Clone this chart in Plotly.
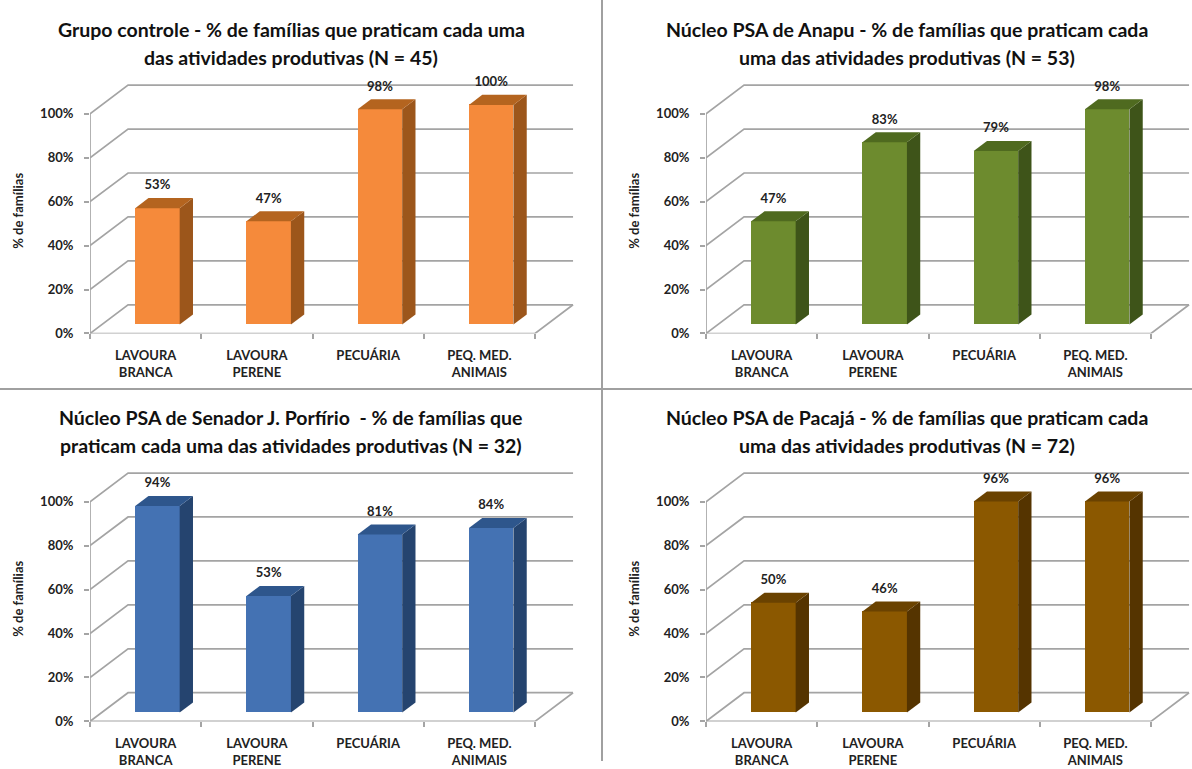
import plotly.graph_objects as go

# ---- data -------------------------------------------------------------
categorias = ["LAVOURA<br>BRANCA", "LAVOURA<br>PERENE", "PECUÁRIA", "PEQ. MED.<br>ANIMAIS"]

controle = [53, 47, 98, 100]
anapu = [47, 83, 79, 98]
porfirio = [94, 53, 81, 84]
pacaja = [50, 46, 96, 96]

titulos = [
    ("Grupo controle - % de famílias que praticam cada uma",
     "das atividades produtivas (N = 45)"),
    ("Núcleo PSA de Anapu - % de famílias que praticam cada",
     "uma das atividades produtivas (N = 53)"),
    ("Núcleo PSA de Senador J. Porfírio  - % de famílias que",
     "praticam cada uma das atividades produtivas (N = 32)"),
    ("Núcleo PSA de Pacajá - % de famílias que praticam cada",
     "uma das atividades produtivas (N = 72)"),
]

y_ticks = [0, 20, 40, 60, 80, 100]
y_ticktext = ["0%", "20%", "40%", "60%", "80%", "100%"]

# face colours: (front, side, top)
cores = [
    ("#F58A3B", "#9C561B", "#B4641F"),
    ("#6D8B2E", "#3E5419", "#4F6A1F"),
    ("#4472B3", "#25446F", "#2E568C"),
    ("#8B5800", "#553400", "#6A4200"),
]

series = [controle, anapu, porfirio, pacaja]

# ---- layout geometry ----------------------------------------------------
W, H = 1192, 769
PX_X = 111.25          # pixels per category
PX_Y = 2.22            # pixels per percentage point
X_MAX = 4.36
Y_MAX = 122
DEPTH_DX = 0.342       # oblique offset of the back wall (category units)
DEPTH_DY = 13.06       # oblique offset of the back wall (percentage units)
BAR_D0, BAR_D1 = 0.31, 0.66
BAR_W = 0.40
# pixel origin (front-left corner of the floor) of each panel
origens = [(90, 337), (706, 337), (90, 729), (706, 729)]

GRID = "#A4A4A4"
TXT = "#222222"
FONT = "Lato"

fig = go.Figure()
shapes = []
annotations = []

n = len(categorias)
for k, (valores, (cf, cs, ct), (px0, py0), (t1, t2)) in enumerate(
        zip(series, cores, origens, titulos), start=1):
    xa, ya = f"x{k}", f"y{k}"

    # back wall / side wall gridlines
    for v in y_ticks:
        shapes.append(dict(
            type="path", xref=xa, yref=ya, layer="below",
            path=f"M 0,{v} L {DEPTH_DX},{v + DEPTH_DY} L {n + DEPTH_DX},{v + DEPTH_DY}",
            line=dict(color=GRID, width=1.7)))
    # floor front edge and right edge
    shapes.append(dict(
        type="path", xref=xa, yref=ya, layer="below",
        path=f"M 0,0 L {n},0 L {n + DEPTH_DX},{DEPTH_DY}",
        line=dict(color=GRID, width=1.7)))
    # front vertical axis
    shapes.append(dict(
        type="path", xref=xa, yref=ya, layer="below",
        path="M 0,0 L 0,100", line=dict(color=GRID, width=1.7)))

    base = BAR_D0 * DEPTH_DY
    shift_x = BAR_D0 * DEPTH_DX
    sdx = (BAR_D1 - BAR_D0) * DEPTH_DX
    sdy = (BAR_D1 - BAR_D0) * DEPTH_DY
    xc = [i + 0.5 + shift_x for i in range(n)]

    # front faces
    fig.add_trace(go.Bar(
        x=xc, y=valores, base=base, width=BAR_W,
        marker=dict(color=cf, line=dict(width=0)),
        xaxis=xa, yaxis=ya, showlegend=False, hoverinfo="skip"))

    # side and top faces
    for c, v in zip(xc, valores):
        xl, xr = c - BAR_W / 2, c + BAR_W / 2
        yb, yt = base, base + v
        fig.add_trace(go.Scatter(
            x=[xr, xr, xr + sdx, xr + sdx, xr],
            y=[yb, yt, yt + sdy, yb + sdy, yb],
            fill="toself", fillcolor=cs, mode="lines", line=dict(width=0, color=cs),
            xaxis=xa, yaxis=ya, showlegend=False, hoverinfo="skip"))
        fig.add_trace(go.Scatter(
            x=[xl, xr, xr + sdx, xl + sdx, xl],
            y=[yt, yt, yt + sdy, yt + sdy, yt],
            fill="toself", fillcolor=ct, mode="lines", line=dict(width=0, color=ct),
            xaxis=xa, yaxis=ya, showlegend=False, hoverinfo="skip"))

    # value labels
    fig.add_trace(go.Scatter(
        x=xc, y=[base + v + 10.0 for v in valores],
        text=[f"<b>{v}%</b>" for v in valores], mode="text",
        textfont=dict(family=FONT, size=13, color=TXT),
        cliponaxis=False, xaxis=xa, yaxis=ya, showlegend=False, hoverinfo="skip"))

    # axes
    sfx = "" if k == 1 else str(k)
    fig.layout[f"xaxis{sfx}"] = dict(
        domain=[px0 / W, min(1.0, (px0 + X_MAX * PX_X) / W)],
        range=[0, X_MAX], anchor=ya, fixedrange=True,
        showgrid=False, zeroline=False, showline=False,
        tickmode="array", tickvals=[i + 0.5 for i in range(n)],
        ticktext=[f"<b>{c}</b>" for c in categorias],
        ticks="", ticklabelstandoff=13,
        tickfont=dict(family=FONT, size=13, color=TXT),
        minor=dict(tickmode="array", tickvals=list(range(n + 1)),
                   ticks="outside", ticklen=5, tickcolor=GRID, tickwidth=1.7,
                   showgrid=False))
    fig.layout[f"yaxis{sfx}"] = dict(
        domain=[1 - py0 / H, 1 - (py0 - Y_MAX * PX_Y) / H],
        range=[0, Y_MAX], anchor=xa, fixedrange=True,
        showgrid=False, zeroline=False, showline=False,
        tickmode="array", tickvals=y_ticks,
        ticktext=[f"<b>{t}</b>" for t in y_ticktext],
        ticks="outside", ticklen=5, tickcolor=GRID, tickwidth=1.7,
        ticklabelstandoff=8,
        tickfont=dict(family=FONT, size=13, color=TXT))

    # panel titles
    cx = (px0 + 201) / W
    for txt, dy in ((t1, -307), (t2, -279)):
        annotations.append(dict(
            xref="paper", yref="paper", x=cx, y=1 - (py0 + dy) / H,
            text=f"<b>{txt}</b>", showarrow=False, xanchor="center", yanchor="middle",
            font=dict(family=FONT, size=19.5, color="#111111")))
    # y-axis title
    annotations.append(dict(
        xref="paper", yref="paper", x=(px0 - 72) / W, y=1 - (py0 - 124) / H,
        text="<b>% de famílias</b>", showarrow=False, textangle=-90,
        xanchor="center", yanchor="middle",
        font=dict(family=FONT, size=13, color=TXT)))

# panel separators
shapes.append(dict(type="line", xref="paper", yref="paper",
                   x0=602 / W, x1=602 / W, y0=0, y1=1,
                   line=dict(color="#A0A0A0", width=2)))
shapes.append(dict(type="line", xref="paper", yref="paper",
                   x0=0, x1=1, y0=1 - 393 / H, y1=1 - 393 / H,
                   line=dict(color="#A0A0A0", width=2)))

fig.update_layout(
    width=W, height=H, autosize=False,
    margin=dict(l=0, r=0, t=0, b=0),
    paper_bgcolor="white", plot_bgcolor="rgba(0,0,0,0)",
    shapes=shapes, annotations=annotations,
    barmode="overlay", bargap=0,
    font=dict(family=FONT, color=TXT),
)

fig.write_html("out.html", config={"displayModeBar": False})
